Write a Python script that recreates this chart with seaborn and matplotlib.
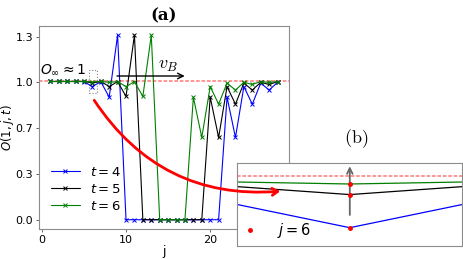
import matplotlib
matplotlib.use("Agg")
import matplotlib.pyplot as plt
from matplotlib.patches import FancyArrowPatch, Rectangle
from matplotlib.ticker import FormatStrFormatter
import numpy as np
import pandas as pd
import seaborn as sns

# ── Data ────────────────────────────────────────────────────────────────
j_sites = list(range(1, 29))
times = [4, 5, 6]
colors = ["blue", "black", "green"]

O_t4 = [0.981, 0.981, 0.981, 0.981, 0.980, 0.945, 0.980, 0.870, 1.310,
        0, 0, 0, 0, 0, 0, 0, 0, 0, 0, 0, 0,
        0.870, 0.584, 0.945, 0.820, 0.970, 0.920, 0.975]
O_t5 = [0.981, 0.981, 0.981, 0.981, 0.982, 0.970, 0.982, 0.945, 0.980, 0.875, 1.310,
        0, 0, 0, 0, 0, 0, 0, 0,
        0.870, 0.584, 0.945, 0.820, 0.970, 0.920, 0.975, 0.960, 0.980]
O_t6 = [0.981, 0.981, 0.981, 0.981, 0.981, 0.978, 0.981, 0.975, 0.980, 0.945,
        0.980, 0.875, 1.310,
        0, 0, 0, 0,
        0.870, 0.584, 0.945, 0.820, 0.970, 0.920, 0.975, 0.960, 0.980, 0.975, 0.980]

O_inf = 0.984
j_zoom = 6

df = pd.DataFrame({
    "j": j_sites * 3,
    "O": O_t4 + O_t5 + O_t6,
    "t": [4] * 28 + [5] * 28 + [6] * 28,
})

# ── Style ───────────────────────────────────────────────────────────────
sns.set_style("ticks", {"axes.edgecolor": "0.55", "xtick.color": "0.3",
                        "ytick.color": "0.3", "text.color": "black",
                        "axes.labelcolor": "black"})
plt.rcParams["font.family"] = ["DejaVu Sans"]
plt.rcParams["xtick.labelcolor"] = "black"
plt.rcParams["ytick.labelcolor"] = "black"

fig = plt.figure(figsize=(4.63, 2.59), dpi=100)
ax = fig.add_axes([0.084, 0.116, 0.54, 0.784])

for t, c in zip(times, colors):
    sub = df[df["t"] == t]
    sns.lineplot(data=sub, x="j", y="O", ax=ax, color=c, lw=0.8,
                 marker="x", markersize=3.2, mec=c, mew=0.7,
                 label=f"$t = {t}$")

ax.axhline(O_inf, color="red", alpha=0.45, lw=1.3, ls=(0, (2, 1)), zorder=0)
ax.set_yticks(np.linspace(0, 1.3, 5))
ax.yaxis.set_major_formatter(FormatStrFormatter("%.1f"))
ax.set_xticks([0, 10, 20])
ax.tick_params(labelsize=8, length=2.5, width=0.6, pad=1.5)
ax.set_xlabel("j", fontsize=9, labelpad=0)
ax.set_ylabel("$O(1, j, t)$", fontsize=8.5)
ax.yaxis.set_label_coords(-0.092, 0.5)
ax.set_title("(a)", fontsize=12, pad=4, family="DejaVu Serif",
             fontweight="bold")

ax.legend(loc="lower left", bbox_to_anchor=(0.0, 0.02), frameon=False,
          fontsize=9.5, handlelength=2.2, labelspacing=0.3)

# zoom box, light-cone arrow, annotations
ax.add_patch(Rectangle((5.55, 0.9), 1.0, 0.16, fill=False, ec="0.5",
                       lw=0.8, ls=":"))
ax.annotate("", xy=(17.3, 1.02), xytext=(8.6, 1.02),
            arrowprops=dict(arrowstyle="->", color="black", lw=1.0))
ax.text(15.0, 1.10, "$v_B$", fontsize=13, ha="center", va="center",
        math_fontfamily="cm")
ax.text(-0.2, 1.06, r"$O_\infty \approx 1$", fontsize=10, ha="left",
        va="center")

# ── Inset (b) ───────────────────────────────────────────────────────────
axin = fig.add_axes([0.5125, 0.0514, 0.486, 0.32])
for t, c in zip(times, colors):
    sub = df[df["t"] == t]
    sns.lineplot(data=sub, x="j", y="O", ax=axin, color=c, lw=0.9)
axin.axhline(O_inf, color="red", alpha=0.45, lw=1.3, ls=(0, (2, 1)), zorder=0)
pts = df[df["j"] == j_zoom]
axin.plot(pts["j"], pts["O"], "o", color="red", ms=2.5, ls="none",
          label=f"$j = {j_zoom}$", zorder=5)
axin.annotate("", xy=(j_zoom, 0.9935), xytext=(j_zoom, 0.9525),
              arrowprops=dict(arrowstyle="->", color="0.4", lw=1.3))
axin.set_xlim(5.5, 6.5)
axin.set_ylim(0.9314, 0.994)
axin.set_xticks([])
axin.set_yticks([])
axin.set_xlabel("")
axin.set_ylabel("")
axin.legend(loc="lower left", frameon=False, fontsize=10.5, handlelength=1.0,
            handletextpad=1.3, borderaxespad=0.1, borderpad=0.3)
fig.text(0.770, 0.466, r"$(\mathrm{b})$", fontsize=13, ha="center",
         va="center", math_fontfamily="cm")

# red curved arrow from (a) to (b)
W, H = 463, 259
arrow = FancyArrowPatch((92.7 / W, 1 - 98 / H), (283 / W, 1 - 191 / H),
                        transform=fig.transFigure,
                        connectionstyle="arc3,rad=0.3",
                        arrowstyle="->,head_length=4,head_width=2.5",
                        color="red", lw=2)
fig.patches.append(arrow)

fig.savefig("out.png", dpi=100)
